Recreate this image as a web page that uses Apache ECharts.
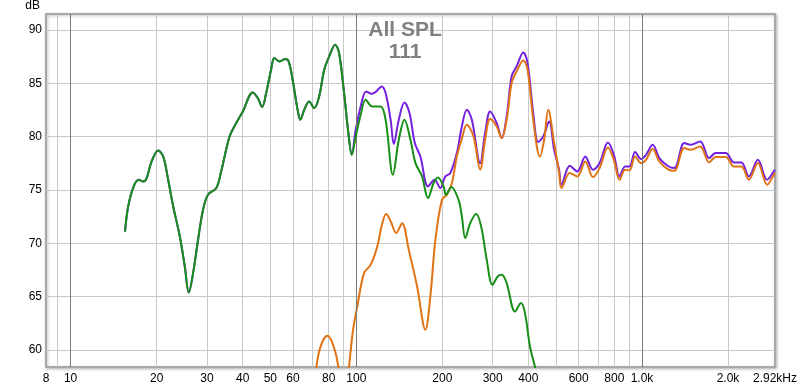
<!DOCTYPE html>
<html>
<head>
<meta charset="utf-8">
<script src="https://cdn.jsdelivr.net/npm/echarts@6.0.0/dist/echarts.min.js"></script>
<style>
html,body{margin:0;padding:0;background:#fff;}
#chart{width:800px;height:389px;}
</style>
</head>
<body>
<div id="chart"></div>
<script>
// ---- Data (frequency in Hz, level in dB) ----
// Shared low-frequency part (purple and green coincide below ~100 Hz)
const lowFreq = [15.5,15.9,16.6,17.3,17.96,18.46,19.2,20.26,21.09,21.95,22.86,24.11,25.1,25.92,26.83,27.93,29.07,30.26,32.36,33.69,36.0,38.0,40.07,43.4,45.2,46.8,48.35,50.3,51.67,53.8,56.44,57.96,59.84,62.3,63.66,65.73,68.4,71.2,74.1,77.2,80.35,84.3,87.0,90.6,93.8,96.4];
const lowDb   = [71.1,73.45,75.3,75.96,75.8,76.12,77.67,78.7,78.14,75.96,73.45,70.64,67.82,65.38,67.2,70.33,73.14,74.55,75.18,76.8,80.02,81.28,82.36,84.15,83.62,82.78,84.09,86.28,87.37,87.05,87.28,87.05,85.34,82.52,81.59,82.52,83.3,82.68,83.77,86.28,87.52,88.62,87.84,84.09,80.34,78.3];

// Purple (All SPL sum) above 100 Hz
const purpleFreq = [99.5,103.6,108.2,113.3,117.4,122.6,126.6,131.8,135.3,140.8,147.4,153.5,160.2,167.6,178.2,188.0,196.8,204.9,213.3,224.8,234.1,243.7,253.7,271.3,282.4,294.0,309.9,322.7,335.9,349.6,363.9,384.0,397.5,416.1,433.2,450.8,473.0,492.4,512.6,522.2,558.5,593.6,633.0,673.2,710.4,759.5,797.0,834.3,872.6,903.9,945.4,992,1032.6,1089.5,1149.7,1228.7,1297,1405.3,1481.6,1597.6,1717.6,1810.7,1961.9,2098.9,2225.9,2366.9,2544,2741.6,2893,2920];
const purpleDb   = [80.65,82.83,84.24,84.02,84.24,84.71,84.09,81.59,79.31,81.59,83.21,82.21,79.4,78.14,75.33,75.96,75.18,76.27,76.59,78.46,80.96,82.52,81.59,77.52,80.34,82.36,81.28,79.87,81.89,85.65,86.59,87.9,86.9,82.21,79.5,80.0,81.43,78.77,76.9,75.49,77.27,76.74,78.14,76.9,77.52,79.46,78.3,76.27,77.2,77.2,78.56,77.9,78.3,79.24,77.99,77.27,77.05,79.4,79.24,79.55,77.99,78.46,78.46,77.58,77.58,76.27,77.83,75.96,76.74,76.9];

// Green above 100 Hz
const greenFreq = [99.5,103.6,107.8,113.7,121.6,126.6,134.3,140.8,147.4,154.7,161.1,169.8,178.2,186.5,193.1,202.1,205.9,215.0,227.9,234.1,240.6,250.4,262.7,273.5,286.1,299.5,312.5,322.7,335.9,359.3,377.0,389.3,405.3,421.9,433.2];
const greenDb   = [80.02,82.05,83.46,82.83,82.83,81.59,76.43,79.71,81.59,79.71,77.52,76.27,74.24,75.65,76.17,75.33,74.55,75.27,74.08,72.51,70.49,71.89,72.74,71.58,68.45,66.11,66.89,67.05,66.27,63.6,64.39,63.45,60.32,58.44,57.2];

// Orange
const orangeFreq = [69.5,72.55,75.3,79.25,82.95,86.5,89.9,94.3,97.4,100.8,106.4,112.2,118.4,122.9,127.2,132.1,137.9,144.6,152.6,163.2,174.5,181.6,189.1,199.4,207.6,216.1,224.8,233.5,243.7,257.1,271.3,282.4,294.0,309.9,322.7,335.9,349.6,363.9,384.0,397.5,416.1,439.0,454.5,469.3,492.4,512.6,522.2,558.5,593.6,633.0,673.2,710.4,759.5,797.0,834.3,872.6,903.9,945.4,992,1032.6,1089.5,1149.7,1228.7,1297,1405.3,1481.6,1597.6,1717.6,1810.7,1961.9,2098.9,2225.9,2366.9,2544,2741.6,2893,2920];
const orangeDb   = [52,58.44,60.48,61.32,60.48,58.44,53.4,58.44,61.89,64.07,67.2,67.98,69.7,71.74,72.74,72.02,70.96,71.89,69.39,65.95,61.89,65.01,70.33,74.08,74.55,75.65,78.14,79.71,81.12,80.02,76.9,79.71,81.65,80.96,79.87,81.59,85.03,86.12,87.15,86.28,81.59,78.14,79.71,82.52,79.4,76.6,75.18,76.59,76.27,77.67,76.21,77.05,78.99,77.83,75.96,76.9,76.83,78.14,77.52,77.83,78.84,77.67,76.96,76.8,78.93,78.77,79.08,77.58,78.09,78.09,77.2,77.2,75.96,77.52,75.49,76.43,76.6];

// Axis ticks
const xGridValues  = [9,10,20,30,40,50,60,70,80,90,100,200,300,400,500,600,700,800,900,1000,2000];
const xDarkValues  = [10,100,1000];
const xLabelValues = [8.2,10,20,30,40,50,60,80,100,200,300,400,600,800,1000,2000,2920];
const yTickValues  = [60,65,70,75,80,85,90];
const xMin = 8.2, xMax = 2920, yMin = 58.4, yMax = 91.5;

const titleText = 'All SPL';
const subText = '111';

function zip(a, b) { return a.map((v, i) => [v, b[i]]); }
const purpleData = zip(lowFreq, lowDb).concat(zip(purpleFreq, purpleDb));
const greenData  = zip(lowFreq, lowDb).concat(zip(greenFreq, greenDb));
const orangeData = zip(orangeFreq, orangeDb);

function fmtX(v) {
  if (v < 9) return '8';
  if (v > 2900) return '2.92kHz';
  if (v >= 1000) return (Math.round(v / 100) / 10).toFixed(1) + 'k';
  return String(Math.round(v));
}

const chart = echarts.init(document.getElementById('chart'), null, {renderer: 'canvas'});
const font = 'Liberation Sans, Arial, sans-serif';
chart.setOption({
  animation: false,
  backgroundColor: '#ffffff',
  textStyle: {fontFamily: font},
  title: {
    text: titleText + '\n' + subText,
    left: 400, top: 14,
    textAlign: 'center',
    textStyle: {fontSize: 21, fontWeight: 'bold', color: '#808080', lineHeight: 22, fontFamily: font}
  },
  grid: {
    left: 46, right: 23, top: 14, bottom: 22,
    show: true, backgroundColor: '#ffffff',
    borderColor: '#a8a8a8', borderWidth: 2,
    shadowColor: 'rgba(0,0,0,0.25)', shadowBlur: 3, shadowOffsetX: 1, shadowOffsetY: 1
  },
  xAxis: {
    type: 'log', logBase: 10, min: xMin, max: xMax,
    axisLine: {show: false},
    axisTick: {show: false, customValues: xGridValues},
    splitLine: {show: true, lineStyle: {color: '#c8c8c8', width: 1}},
    minorSplitLine: {show: false},
    axisLabel: {
      customValues: xLabelValues, formatter: fmtX, color: '#000', fontSize: 12,
      margin: 6, hideOverlap: false, showMinLabel: true, showMaxLabel: true, fontFamily: font
    }
  },
  yAxis: {
    type: 'value', min: yMin, max: yMax,
    name: 'dB', nameLocation: 'end', nameGap: 2,
    nameTextStyle: {color: '#000', fontSize: 12, align: 'right', verticalAlign: 'bottom', padding: [0, 6, 0, 0], fontFamily: font},
    axisLine: {show: false},
    axisTick: {show: false, customValues: yTickValues},
    splitLine: {show: true, lineStyle: {color: '#c8c8c8', width: 1}},
    axisLabel: {customValues: yTickValues, color: '#000', fontSize: 12, margin: 4, fontFamily: font}
  },
  series: [
    {
      type: 'line', data: [], z: 1, silent: true,
      markLine: {
        silent: true, symbol: 'none', animation: false,
        label: {show: false},
        lineStyle: {color: '#7a7a7a', width: 1, type: 'solid'},
        data: xDarkValues.map(v => ({xAxis: v}))
      }
    },
    {name: 'purple', type: 'line', data: purpleData, showSymbol: false, symbol: 'none', smooth: 0.35,
     lineStyle: {color: '#7421de', width: 2}, itemStyle: {color: '#7421de'}, z: 3},
    {name: 'orange', type: 'line', data: orangeData, showSymbol: false, symbol: 'none', smooth: 0.35,
     lineStyle: {color: '#e07414', width: 2}, itemStyle: {color: '#e07414'}, z: 4},
    {name: 'green', type: 'line', data: greenData, showSymbol: false, symbol: 'none', smooth: 0.35,
     lineStyle: {color: '#178f17', width: 2}, itemStyle: {color: '#178f17'}, z: 5}
  ]
});
</script>
</body>
</html>
